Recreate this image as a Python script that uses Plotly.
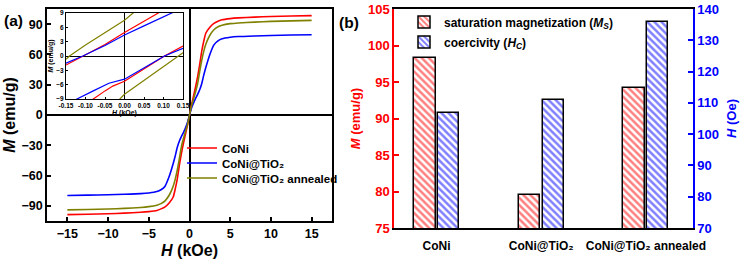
import plotly.graph_objects as go

# ---------------- data ----------------
# Panel (a): M-H loops (main scale)
H_main = [-15, -12.5, -10, -8, -6, -5, -4, -3.5, -3, -2.5, -2, -1.75, -1.5, -1.25, -1, -0.75, -0.5, -0.25, 0,
          0.25, 0.5, 0.75, 1, 1.25, 1.5, 1.75, 2, 2.5, 3, 3.5, 4, 5, 6, 8, 10, 12.5, 15]
M_coni = [-98.7, -98.3, -97.8, -97.2, -96.4, -95.7, -94.5, -93.0, -91.0, -87.2, -81.2, -73.2, -63.2, -50.2, -38.2, -28.2, -19.2, -10.2, 0,
          10, 19, 28, 38, 50, 63, 73, 81, 87, 90.8, 92.8, 94.3, 95.5, 96.2, 97.0, 97.6, 98.1, 98.4]
M_coni_tio2 = [-79.7, -79.4, -79.0, -78.5, -77.9, -77.2, -75.8, -74.0, -70.5, -61.0, -48.0, -40.5, -32.0, -26.0, -21.5, -17.5, -13.0, -7.5, 0,
               7, 12, 16.5, 20.5, 25, 31, 39.5, 47, 60, 69.5, 73.5, 75.5, 77.0, 77.7, 78.3, 78.8, 79.2, 79.5]
M_coni_tio2_ann = [-94.0, -93.6, -93.1, -92.5, -91.6, -90.8, -89.3, -87.8, -85.0, -79.5, -70.5, -63.5, -54.5, -43.5, -31.5, -23.5, -16.5, -9.5, 0,
                   9, 16, 23, 31, 43, 54, 63, 70, 79, 84.5, 87.5, 89.0, 90.5, 91.2, 92.0, 92.7, 93.2, 93.7]

# Panel (a) inset: loop branches near the origin
H_up_coni = [-0.15, -0.105, -0.05, 0, 0.05, 0.086, 0.12, 0.15]
M_up_coni = [-1.9, 0, 2.4, 4.9, 7.3, 9.0, 10.6, 12.0]
H_lo_coni = [-0.15, -0.1, -0.08, -0.05, -0.03, 0, 0.05, 0.1025, 0.15]
M_lo_coni = [-12.5, -10.1, -9.0, -7.3, -6.3, -5.3, -2.7, 0, 2.1]

H_up_tio2 = [-0.15, -0.107, -0.05, 0, 0.05, 0.1, 0.12, 0.15]
M_up_tio2 = [-1.5, 0, 2.2, 4.4, 6.3, 8.2, 9.0, 10.1]
H_lo_tio2 = [-0.15, -0.122, -0.08, -0.04, 0, 0.05, 0.1025, 0.15]
M_lo_tio2 = [-10.3, -9.0, -7.3, -5.7, -4.85, -2.4, 0, 1.6]

H_up_ann = [-0.15, -0.141, -0.1, -0.05, 0, 0.022, 0.05]
M_up_ann = [-0.7, 0, 2.3, 4.9, 7.5, 9.0, 10.5]
H_lo_ann = [-0.05, -0.012, 0, 0.05, 0.1, 0.136, 0.15]
M_lo_ann = [-11.5, -9.0, -8.0, -5.1, -2.2, 0, 0.7]

# Panel (b): bars
samples = ["CoNi", "CoNi@TiO₂", "CoNi@TiO₂ annealed"]
Ms_vals = [98.3, 79.5, 94.2]      # emu/g
Hc_vals = [106.9, 110.9, 135.8]   # Oe

series_names = ["CoNi", "CoNi@TiO₂", "CoNi@TiO₂ annealed"]

# ---------------- style ----------------
W, Hh = 750, 259
FONT = "Liberation Sans, Arial, sans-serif"
RED, BLUE, OLIVE = "#FF0000", "#0000FF", "#808000"
colors = [RED, BLUE, OLIVE]

def fx(p):
    return p / W

def fy(p):
    return 1 - p / Hh

fig = go.Figure()

# main curves (each with its own one-entry legend for tight spacing)
legend_ids_a = ["legend", "legend3", "legend4"]
for name, M, c, lg in zip(series_names, [M_coni, M_coni_tio2, M_coni_tio2_ann], colors, legend_ids_a):
    fig.add_trace(go.Scatter(x=H_main, y=M, mode="lines", name=name,
                             line=dict(color=c, width=1.6, shape="spline", smoothing=0.5),
                             xaxis="x", yaxis="y", legend=lg))

# inset curves
inset_sets = [
    (H_up_coni, M_up_coni, H_lo_coni, M_lo_coni, RED),
    (H_up_tio2, M_up_tio2, H_lo_tio2, M_lo_tio2, BLUE),
    (H_up_ann, M_up_ann, H_lo_ann, M_lo_ann, OLIVE),
]
for hu, mu, hl, ml, c in inset_sets:
    for hx, my in ((hu, mu), (hl, ml)):
        fig.add_trace(go.Scatter(x=hx, y=my, mode="lines", showlegend=False,
                                 line=dict(color=c, width=1.2),
                                 xaxis="x2", yaxis="y2"))

# bars
fig.add_trace(go.Bar(x=samples, y=Ms_vals, name="saturation magnetization (<i>M<sub>S</sub></i>)",
                     xaxis="x3", yaxis="y3", legend="legend2",
                     width=0.205, offset=-0.215,
                     marker=dict(color="white", line=dict(color="black", width=1.5),
                                 pattern=dict(shape="\\", fgcolor=RED, bgcolor="white",
                                              size=5, solidity=0.5))))
fig.add_trace(go.Bar(x=samples, y=Hc_vals, name="coercivity (<i>H<sub>C</sub></i>)",
                     xaxis="x3", yaxis="y4", legend="legend5",
                     width=0.2, offset=0.015,
                     marker=dict(color="white", line=dict(color="black", width=1.5),
                                 pattern=dict(shape="\\", fgcolor=BLUE, bgcolor="white",
                                              size=5, solidity=0.5))))

bold = dict(family=FONT, color="black", weight="bold")

def leg(xp, yp, size):
    return dict(x=fx(xp), y=fy(yp), xanchor="left", yanchor="middle",
                bgcolor="rgba(0,0,0,0)", borderwidth=0,
                font=dict(bold, size=size), itemwidth=30)

fig.update_layout(
    width=W, height=Hh,
    margin=dict(l=0, r=0, t=0, b=0, autoexpand=False),
    paper_bgcolor="white", plot_bgcolor="white",
    font=dict(family=FONT, color="black"),
    showlegend=True,
    # panel (a) main
    xaxis=dict(domain=[fx(47), fx(332)], range=[-17.5, 17.5], tickvals=[-15, -10, -5, 0, 5, 10, 15],
               showline=True, mirror=True, linecolor="black", linewidth=1.5,
               ticks="inside", ticklen=4, tickwidth=1.5, tickcolor="black",
               zeroline=True, zerolinecolor="black", zerolinewidth=1.5, showgrid=False,
               tickfont=dict(bold, size=12.5), automargin=False,
               title=dict(text="<i>H</i> (kOe)", font=dict(bold, size=16), standoff=6),
               anchor="y"),
    yaxis=dict(domain=[fy(221), fy(9)], range=[-105, 105], tickvals=[-90, -60, -30, 0, 30, 60, 90],
               showline=True, mirror=True, linecolor="black", linewidth=1.5,
               ticks="inside", ticklen=4, tickwidth=1.5, tickcolor="black",
               zeroline=True, zerolinecolor="black", zerolinewidth=1.5, showgrid=False,
               tickfont=dict(bold, size=12.5), automargin=False,
               title=dict(text="<i>M</i> (emu/g)", font=dict(bold, size=16), standoff=2),
               anchor="x"),
    # inset
    xaxis2=dict(domain=[fx(66), fx(183)], range=[-0.15, 0.15],
                tickvals=[-0.15, -0.10, -0.05, 0.0, 0.05, 0.10, 0.15],
                ticktext=["-0.15", "-0.10", "-0.05", "0.00", "0.05", "0.10", "0.15"],
                showline=True, mirror=True, linecolor="black", linewidth=1,
                ticks="inside", ticklen=2, tickwidth=1, tickcolor="black",
                zeroline=True, zerolinecolor="black", zerolinewidth=1, showgrid=False,
                tickfont=dict(bold, size=6.5), automargin=False,
                title=dict(text="<i>H</i> (kOe)", font=dict(bold, size=7), standoff=1),
                anchor="y2"),
    yaxis2=dict(domain=[fy(99), fy(13)], range=[-9, 9], tickvals=[-9, -6, -3, 0, 3, 6, 9],
                showline=True, mirror=True, linecolor="black", linewidth=1,
                ticks="inside", ticklen=2, tickwidth=1, tickcolor="black",
                zeroline=True, zerolinecolor="black", zerolinewidth=1, showgrid=False,
                tickfont=dict(bold, size=6.5), automargin=False,
                title=dict(text="<i>M</i> (emu/g)", font=dict(bold, size=7), standoff=1),
                anchor="x2"),
    # panel (b)
    xaxis3=dict(domain=[fx(394), fx(693)], type="category", range=[-0.407, 2.45],
                showline=True, mirror=True, linecolor="black", linewidth=1.5,
                ticks="", showgrid=False, zeroline=False, automargin=False,
                tickfont=dict(bold, size=12), ticklabelstandoff=6,
                anchor="y3"),
    yaxis3=dict(domain=[fy(228), fy(9)], range=[75, 105], tickvals=[75, 80, 85, 90, 95, 100, 105],
                showline=True, linecolor=RED, linewidth=1.5,
                ticks="inside", ticklen=5, tickwidth=1.5, tickcolor=RED,
                showgrid=False, zeroline=False, automargin=False,
                tickfont=dict(family=FONT, color=RED, weight="bold", size=13),
                title=dict(text="<i>M</i> (emu/g)", font=dict(family=FONT, color=RED, weight="bold", size=13), standoff=4),
                anchor="x3"),
    yaxis4=dict(range=[70, 140], tickvals=[70, 80, 90, 100, 110, 120, 130, 140],
                overlaying="y3", side="right", anchor="x3",
                showline=True, linecolor=BLUE, linewidth=1.5,
                ticks="inside", ticklen=5, tickwidth=1.5, tickcolor=BLUE,
                showgrid=False, zeroline=False, automargin=False,
                tickfont=dict(family=FONT, color=BLUE, weight="bold", size=13),
                title=dict(text="<i>H</i> (Oe)", font=dict(family=FONT, color=BLUE, weight="bold", size=13), standoff=9)),
    legend=leg(182, 148, 11.5),
    legend3=leg(182, 163, 11.5),
    legend4=leg(182, 178, 11.5),
    legend2=leg(404, 22, 12),
    legend5=leg(404, 42, 12),
    bargap=0,
    annotations=[
        dict(text="(a)", x=fx(24), y=fy(11), xref="paper", yref="paper", showarrow=False,
             xanchor="right", borderpad=0, font=dict(bold, size=15.5)),
        dict(text="(b)", x=fx(349), y=fy(13), xref="paper", yref="paper", showarrow=False,
             borderpad=0, font=dict(bold, size=15.5)),
    ],
)

fig.write_html("out.html", config={"displayModeBar": False},
               post_script="document.body.style.margin='0';document.body.style.overflow='hidden';")
